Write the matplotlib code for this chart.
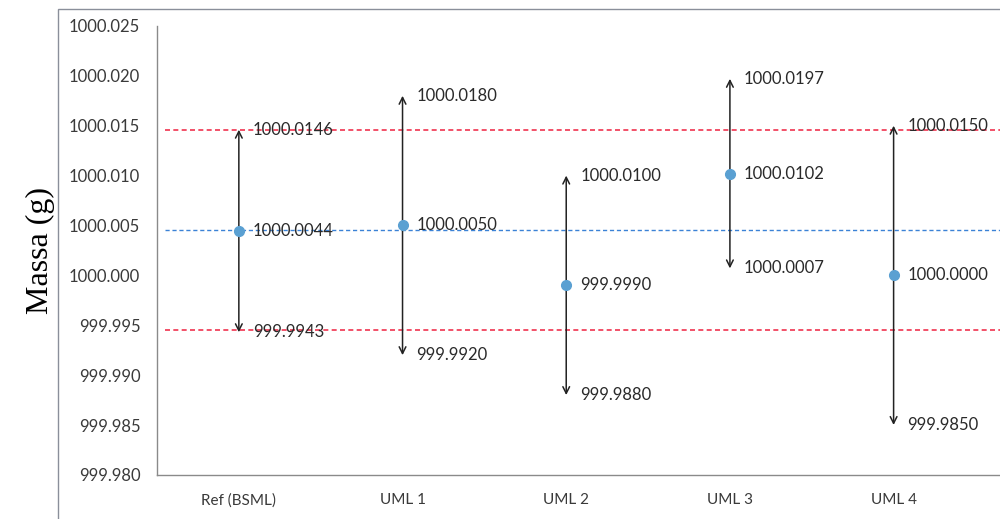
import matplotlib
matplotlib.use("Agg")
import matplotlib.pyplot as plt
from matplotlib.patches import Rectangle

categories = ["Ref (BSML)", "UML 1", "UML 2", "UML 3", "UML 4"]
centers = [1000.0044, 1000.0050, 999.9990, 1000.0102, 1000.0000]
uppers = [1000.0146, 1000.0180, 1000.0100, 1000.0197, 1000.0150]
lowers = [999.9943, 999.9920, 999.9880, 1000.0007, 999.9850]
ref_upper = 1000.0146
ref_center = 1000.0045
ref_lower = 999.9945
yticks = [999.980, 999.985, 999.990, 999.995, 1000.000, 1000.005,
          1000.010, 1000.015, 1000.020, 1000.025]

font = ["Lato", "DejaVu Sans"]
fig = plt.figure(figsize=(10, 5.19), dpi=100)
ax = fig.add_axes([0.157, 0.085, 0.843, 0.865])

fig.patches.append(Rectangle((0.058, -0.1), 1.2, 1.083, transform=fig.transFigure,
                             fill=False, edgecolor="#8a8f9a", lw=1.0))

x = list(range(len(categories)))
ax.plot([-0.45, 4.65], [ref_upper, ref_upper], ls=(0, (3, 2)), color="#f0334f", lw=1.2)
ax.plot([-0.45, 4.65], [ref_lower, ref_lower], ls=(0, (3, 2)), color="#f0334f", lw=1.2)
ax.plot([-0.45, 4.65], [ref_center, ref_center], ls=(0, (3, 2)), color="#3b82d6", lw=1.0)

for xi, c, u, l in zip(x, centers, uppers, lowers):
    ax.annotate("", xy=(xi, u), xytext=(xi, l),
                arrowprops=dict(arrowstyle="<->", color="#222222", lw=1.1,
                                shrinkA=0, shrinkB=0, mutation_scale=12))
    ax.plot([xi], [c], "o", color="#5aa0d2", ms=7, zorder=5)
    for v in (u, c, l):
        txt = f"{v:.4f}"
        ax.text(xi + 0.085, v, txt, ha="left", va="center", fontsize=12,
                color="#2a2a2a", family=font)

ax.set_xlim(-0.5, 4.65)
ax.set_ylim(999.980, 1000.025)
ax.set_yticks(yticks)
ax.set_yticklabels([f"{t:.3f}" for t in yticks], family=font, fontsize=12, color="#3a3a3a")
ax.set_xticks(x)
ax.set_xticklabels(categories, family=font, fontsize=11, color="#3a3a3a")
ax.tick_params(axis="both", length=0)
ax.tick_params(axis="y", pad=12)
ax.tick_params(axis="x", pad=13)
for s in ("top", "right"):
    ax.spines[s].set_visible(False)
for s in ("left", "bottom"):
    ax.spines[s].set_color("#8a8a8a")
    ax.spines[s].set_linewidth(1.0)

ax.set_ylabel("Massa (g)", family=["Liberation Serif", "DejaVu Serif"], fontsize=23, labelpad=10)

fig.savefig("out.png", dpi=100)
